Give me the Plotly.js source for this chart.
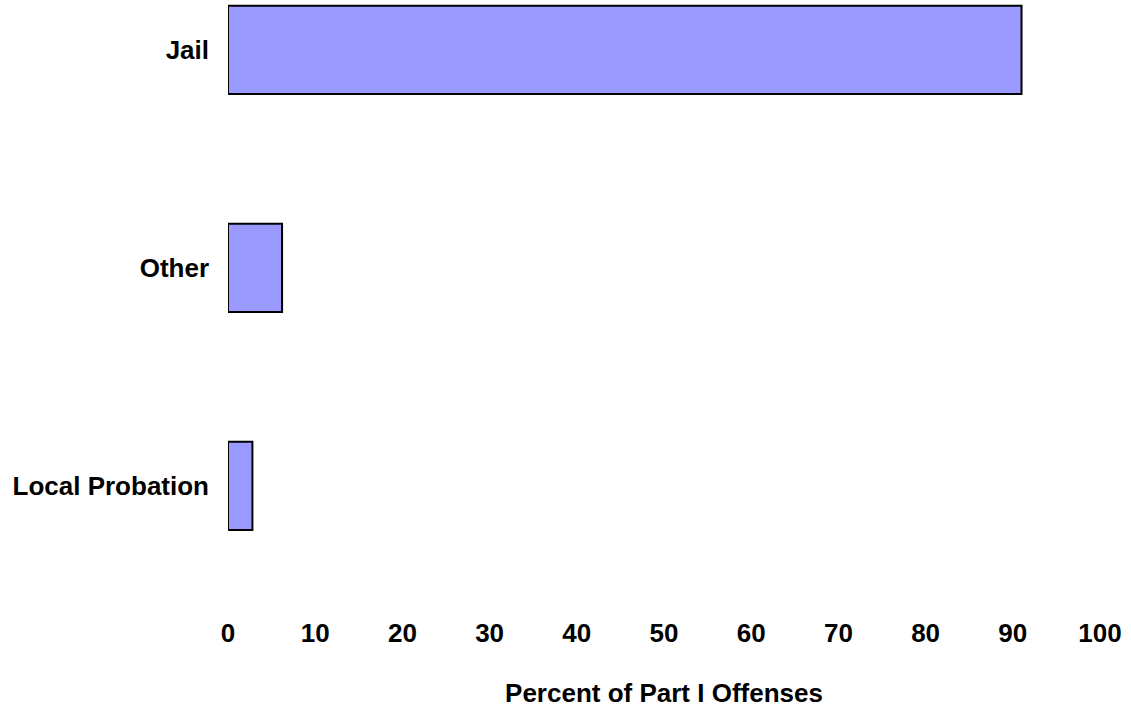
<!DOCTYPE html>
<html>
<head>
<meta charset="utf-8">
<script src="https://cdn.plot.ly/plotly-3.0.1.min.js"></script>
<style>html,body{margin:0;padding:0;background:#fff;}#chart{width:1131px;height:711px;}</style>
</head>
<body>
<div id="chart"></div>
<script>
const categories = ["Local Probation", "Other", "Jail"];
const percentValues = [2.8, 6.2, 91.0];
const xTickValues = [0, 10, 20, 30, 40, 50, 60, 70, 80, 90, 100];

const fontFamily = "'Liberation Sans', Arial, sans-serif";

const trace = {
  type: "bar",
  orientation: "h",
  y: categories,
  x: percentValues,
  width: 0.405,
  marker: { color: "#9999FF", line: { color: "#000000", width: 2 } },
  hoverinfo: "x+y"
};

const layout = {
  width: 1131,
  height: 711,
  paper_bgcolor: "#ffffff",
  plot_bgcolor: "#ffffff",
  showlegend: false,
  margin: { l: 227.5, r: 31, t: 0, b: 96 },
  font: { family: fontFamily, size: 26, color: "#000000" },
  xaxis: {
    range: [0, 100],
    tickvals: xTickValues,
    ticktext: xTickValues.map(String),
    showgrid: false,
    zeroline: false,
    showline: false,
    ticks: "",
    ticklabelstandoff: 0,
    tickfont: { family: fontFamily, size: 26, color: "#000000", weight: "bold" },
    title: { text: "<b>Percent of Part I Offenses</b>", font: { family: fontFamily, size: 26, color: "#000000" }, standoff: 36 },
    fixedrange: true
  },
  yaxis: {
    type: "category",
    categoryorder: "array",
    categoryarray: categories,
    range: [-0.592, 2.229],
    showgrid: false,
    zeroline: false,
    showline: false,
    ticks: "",
    ticklabelstandoff: 18,
    tickfont: { family: fontFamily, size: 26, color: "#000000", weight: "bold" },
    fixedrange: true
  }
};

Plotly.newPlot("chart", [trace], layout, { displayModeBar: false, staticPlot: true });
</script>
</body>
</html>
